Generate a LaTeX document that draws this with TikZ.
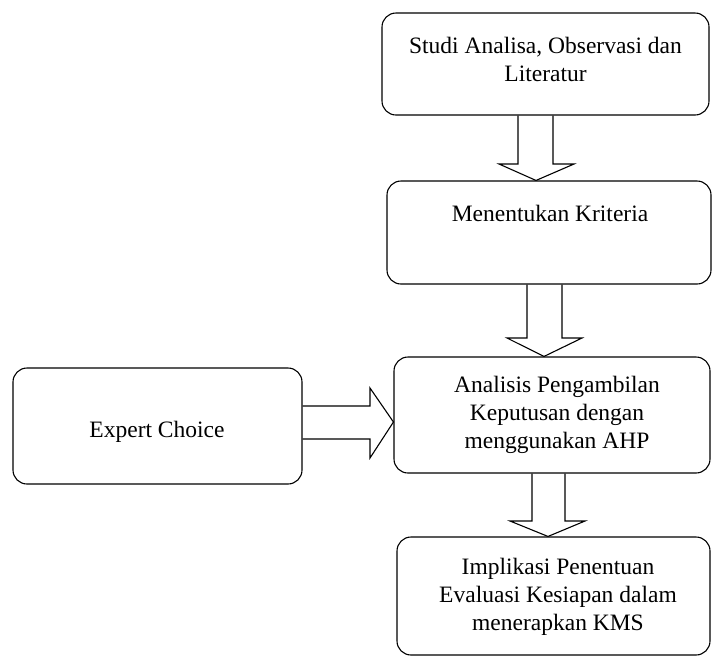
\documentclass[tikz,border=0pt]{standalone}
\usepackage{fontspec}
\setmainfont{Liberation Serif}
\usetikzlibrary{calc}
\begin{document}
\begin{tikzpicture}[x=1pt,y=-1pt,
  box/.style={draw, line width=1.1pt, rounded corners=14pt, inner sep=0pt, align=center,
    font=\fontsize{23.5}{28}\selectfont},
  txt/.style={inner sep=0pt, align=center, font=\fontsize{23.5}{28}\selectfont},
  blockarrow/.style={draw, line width=1.1pt, line join=miter}]
\useasboundingbox (0,0) rectangle (712,657);
% boxes
\node[box, minimum width=327pt, minimum height=102pt] (b1) at (545.5,64) {};
\node[txt] (t1) at (545.5,59) {Studi Analisa, Observasi dan\\Literatur};
\node[box, minimum width=324pt, minimum height=103pt] (b2) at (549,232.5) {};
\node[txt] (t2) at (550,213) {Menentukan Kriteria};
\node[box, minimum width=316pt, minimum height=116pt] (b3) at (552,415) {};
\node[txt] (t3) at (557,415) {Analisis Pengambilan\\Keputusan dengan\\menggunakan AHP};
\node[box, minimum width=313pt, minimum height=118pt] (b4) at (553.5,596) {};
\node[txt] (t4) at (558,597) {Implikasi Penentuan\\Evaluasi Kesiapan dalam\\menerapkan KMS};
\node[box, minimum width=289pt, minimum height=116pt] (be) at (157.5,426) {};
\node[txt] (te) at (157,432) {Expert Choice};
% block arrows
\draw[blockarrow] ($(b1.south)+(-27.5,0)$) -- (518,164) -- (499,164) -- ($(b2.north)+(-13,0)$) -- (574,164) -- (553,164) -- ($(b1.south)+(7.5,0)$);
\draw[blockarrow] ($(b2.south)+(-22,0)$) -- (527,338) -- (507,338) -- ($(b3.north)+(-8,0)$) -- (582,338) -- (562,338) -- ($(b2.south)+(13,0)$);
\draw[blockarrow] ($(b3.south)+(-20,0)$) -- (532,521) -- (510,521) -- ($(b4.north)+(-5.5,0)$) -- (585,521) -- (565,521) -- ($(b3.south)+(13,0)$);
\draw[blockarrow] ($(be.east)+(0,-20)$) -- (370,406) -- (370,388) -- ($(b3.west)+(0,7)$) -- (370,458) -- (370,439) -- ($(be.east)+(0,13)$);
\end{tikzpicture}
\end{document}
